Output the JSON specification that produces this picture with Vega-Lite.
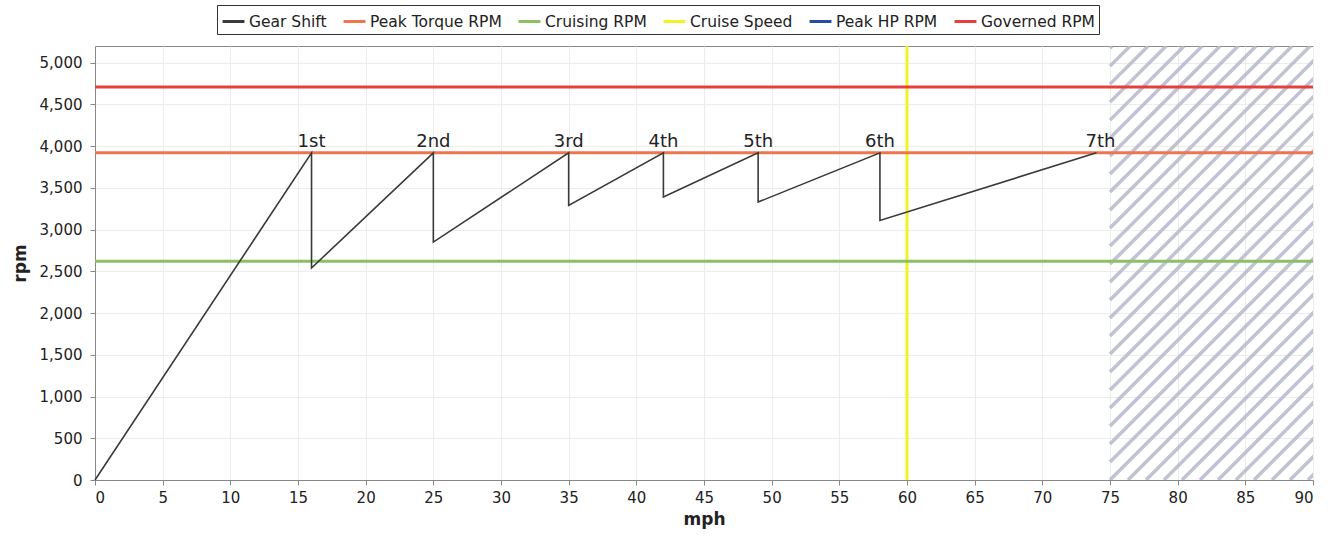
{
  "$schema": "https://vega.github.io/schema/vega-lite/v6.json",
  "width": 1218,
  "height": 434,
  "autosize": "none",
  "padding": {"left": 95, "top": 46, "right": 21, "bottom": 56},
  "background": "white",
  "config": {
    "font": "DejaVu Sans",
    "view": {"stroke": "#8a8a8a", "strokeWidth": 1},
    "axis": {
      "labelFont": "DejaVu Sans",
      "labelFontSize": 15,
      "labelColor": "#222222",
      "titleFont": "DejaVu Sans",
      "titleFontSize": 17,
      "titleFontWeight": "bold",
      "titleColor": "#222222",
      "gridColor": "#ececec",
      "domainColor": "#888888",
      "tickColor": "#888888",
      "tickSize": 5
    }
  },
  "datasets": {
    "hatch": [
      {"x": 75, "y": 0, "x2": 107.08, "y2": 5200},
      {"x": 76.33, "y": 0, "x2": 108.41, "y2": 5200},
      {"x": 77.66, "y": 0, "x2": 109.74, "y2": 5200},
      {"x": 78.99, "y": 0, "x2": 111.07, "y2": 5200},
      {"x": 80.32, "y": 0, "x2": 112.40, "y2": 5200},
      {"x": 81.65, "y": 0, "x2": 113.73, "y2": 5200},
      {"x": 82.98, "y": 0, "x2": 115.06, "y2": 5200},
      {"x": 84.31, "y": 0, "x2": 116.39, "y2": 5200},
      {"x": 85.64, "y": 0, "x2": 117.72, "y2": 5200},
      {"x": 86.97, "y": 0, "x2": 119.05, "y2": 5200},
      {"x": 88.30, "y": 0, "x2": 120.38, "y2": 5200},
      {"x": 89.63, "y": 0, "x2": 121.71, "y2": 5200},
      {"x": 75, "y": 215.6, "x2": 105.75, "y2": 5200},
      {"x": 75, "y": 431.2, "x2": 104.42, "y2": 5200},
      {"x": 75, "y": 646.8, "x2": 103.09, "y2": 5200},
      {"x": 75, "y": 862.4, "x2": 101.76, "y2": 5200},
      {"x": 75, "y": 1078, "x2": 100.43, "y2": 5200},
      {"x": 75, "y": 1293.6, "x2": 99.10, "y2": 5200},
      {"x": 75, "y": 1509.2, "x2": 97.77, "y2": 5200},
      {"x": 75, "y": 1724.8, "x2": 96.44, "y2": 5200},
      {"x": 75, "y": 1940.4, "x2": 95.11, "y2": 5200},
      {"x": 75, "y": 2156, "x2": 93.78, "y2": 5200},
      {"x": 75, "y": 2371.6, "x2": 92.45, "y2": 5200},
      {"x": 75, "y": 2587.2, "x2": 91.12, "y2": 5200},
      {"x": 75, "y": 2802.8, "x2": 89.79, "y2": 5200},
      {"x": 75, "y": 3018.4, "x2": 88.46, "y2": 5200},
      {"x": 75, "y": 3234, "x2": 87.13, "y2": 5200},
      {"x": 75, "y": 3449.6, "x2": 85.80, "y2": 5200},
      {"x": 75, "y": 3665.2, "x2": 84.47, "y2": 5200},
      {"x": 75, "y": 3880.8, "x2": 83.14, "y2": 5200},
      {"x": 75, "y": 4096.4, "x2": 81.81, "y2": 5200},
      {"x": 75, "y": 4312, "x2": 80.48, "y2": 5200},
      {"x": 75, "y": 4527.6, "x2": 79.15, "y2": 5200},
      {"x": 75, "y": 4743.2, "x2": 77.82, "y2": 5200},
      {"x": 75, "y": 4958.8, "x2": 76.49, "y2": 5200},
      {"x": 75, "y": 5174.4, "x2": 75.16, "y2": 5200}
    ],
    "vlines": [
      {"series": "Cruise Speed", "mph": 60}
    ],
    "hlines": [
      {"series": "Cruising RPM", "rpm": 2620},
      {"series": "Peak Torque RPM", "rpm": 3920},
      {"series": "Governed RPM", "rpm": 4710}
    ],
    "gears": [
      {"i": 0, "series": "Gear Shift", "mph": 0, "rpm": 0},
      {"i": 1, "series": "Gear Shift", "mph": 16, "rpm": 3920},
      {"i": 2, "series": "Gear Shift", "mph": 16, "rpm": 2540},
      {"i": 3, "series": "Gear Shift", "mph": 25, "rpm": 3920},
      {"i": 4, "series": "Gear Shift", "mph": 25, "rpm": 2850},
      {"i": 5, "series": "Gear Shift", "mph": 35, "rpm": 3920},
      {"i": 6, "series": "Gear Shift", "mph": 35, "rpm": 3290},
      {"i": 7, "series": "Gear Shift", "mph": 42, "rpm": 3920},
      {"i": 8, "series": "Gear Shift", "mph": 42, "rpm": 3390},
      {"i": 9, "series": "Gear Shift", "mph": 49, "rpm": 3920},
      {"i": 10, "series": "Gear Shift", "mph": 49, "rpm": 3330},
      {"i": 11, "series": "Gear Shift", "mph": 58, "rpm": 3920},
      {"i": 12, "series": "Gear Shift", "mph": 58, "rpm": 3110},
      {"i": 13, "series": "Gear Shift", "mph": 74, "rpm": 3920}
    ],
    "labels": [
      {"gear": "1st", "mph": 16, "rpm": 3920},
      {"gear": "2nd", "mph": 25, "rpm": 3920},
      {"gear": "3rd", "mph": 35, "rpm": 3920},
      {"gear": "4th", "mph": 42, "rpm": 3920},
      {"gear": "5th", "mph": 49, "rpm": 3920},
      {"gear": "6th", "mph": 58, "rpm": 3920},
      {"gear": "7th", "mph": 74.3, "rpm": 3920}
    ]
  },
  "layer": [
    {
      "data": {"name": "hatch"},
      "mark": {"type": "rule", "clip": true, "stroke": "#b4b8ca", "strokeWidth": 3.5, "opacity": 0.85},
      "encoding": {
        "x": {
          "field": "x", "type": "quantitative",
          "scale": {"domain": [0, 90], "nice": false, "zero": false},
          "axis": {
            "title": "mph",
            "values": [0, 5, 10, 15, 20, 25, 30, 35, 40, 45, 50, 55, 60, 65, 70, 75, 80, 85, 90],
            "grid": true,
            "labelPadding": 5,
            "titlePadding": 6
          }
        },
        "y": {
          "field": "y", "type": "quantitative",
          "scale": {"domain": [0, 5200], "nice": false},
          "axis": {
            "title": "rpm",
            "values": [0, 500, 1000, 1500, 2000, 2500, 3000, 3500, 4000, 4500, 5000],
            "format": ",d",
            "grid": true,
            "labelPadding": 8,
            "titlePadding": 10
          }
        },
        "x2": {"field": "x2"},
        "y2": {"field": "y2"}
      }
    },
    {
      "data": {"name": "vlines"},
      "mark": {"type": "rule", "strokeWidth": 3},
      "encoding": {
        "x": {"field": "mph", "type": "quantitative"},
        "color": {
          "field": "series", "type": "nominal",
          "scale": {
            "domain": ["Gear Shift", "Peak Torque RPM", "Cruising RPM", "Cruise Speed", "Peak HP RPM", "Governed RPM"],
            "range": ["#3a3a3a", "#ec7650", "#8cc063", "#f2f226", "#2a4aa8", "#e6403c"]
          },
          "legend": {
            "title": null,
            "orient": "none",
            "legendX": 122,
            "legendY": -41,
            "direction": "horizontal",
            "symbolType": "stroke",
            "symbolSize": 480,
            "symbolStrokeWidth": 3,
            "labelFont": "DejaVu Sans",
            "labelFontSize": 15.5,
            "labelColor": "#222222",
            "labelOffset": 3,
            "columnPadding": 10,
            "padding": 4,
            "strokeColor": "#333333",
            "fillColor": "white"
          }
        }
      }
    },
    {
      "data": {"name": "hlines"},
      "mark": {"type": "rule", "strokeWidth": 3},
      "encoding": {
        "y": {"field": "rpm", "type": "quantitative"},
        "color": {"field": "series", "type": "nominal"}
      }
    },
    {
      "data": {"name": "gears"},
      "mark": {"type": "line", "strokeWidth": 1.6},
      "encoding": {
        "x": {"field": "mph", "type": "quantitative"},
        "y": {"field": "rpm", "type": "quantitative"},
        "order": {"field": "i", "type": "quantitative"},
        "color": {"field": "series", "type": "nominal"}
      }
    },
    {
      "data": {"name": "labels"},
      "mark": {"type": "text", "font": "DejaVu Sans", "fontSize": 18, "color": "#222222", "baseline": "bottom", "align": "center", "dy": -2},
      "encoding": {
        "x": {"field": "mph", "type": "quantitative"},
        "y": {"field": "rpm", "type": "quantitative"},
        "text": {"field": "gear", "type": "nominal"}
      }
    }
  ]
}
